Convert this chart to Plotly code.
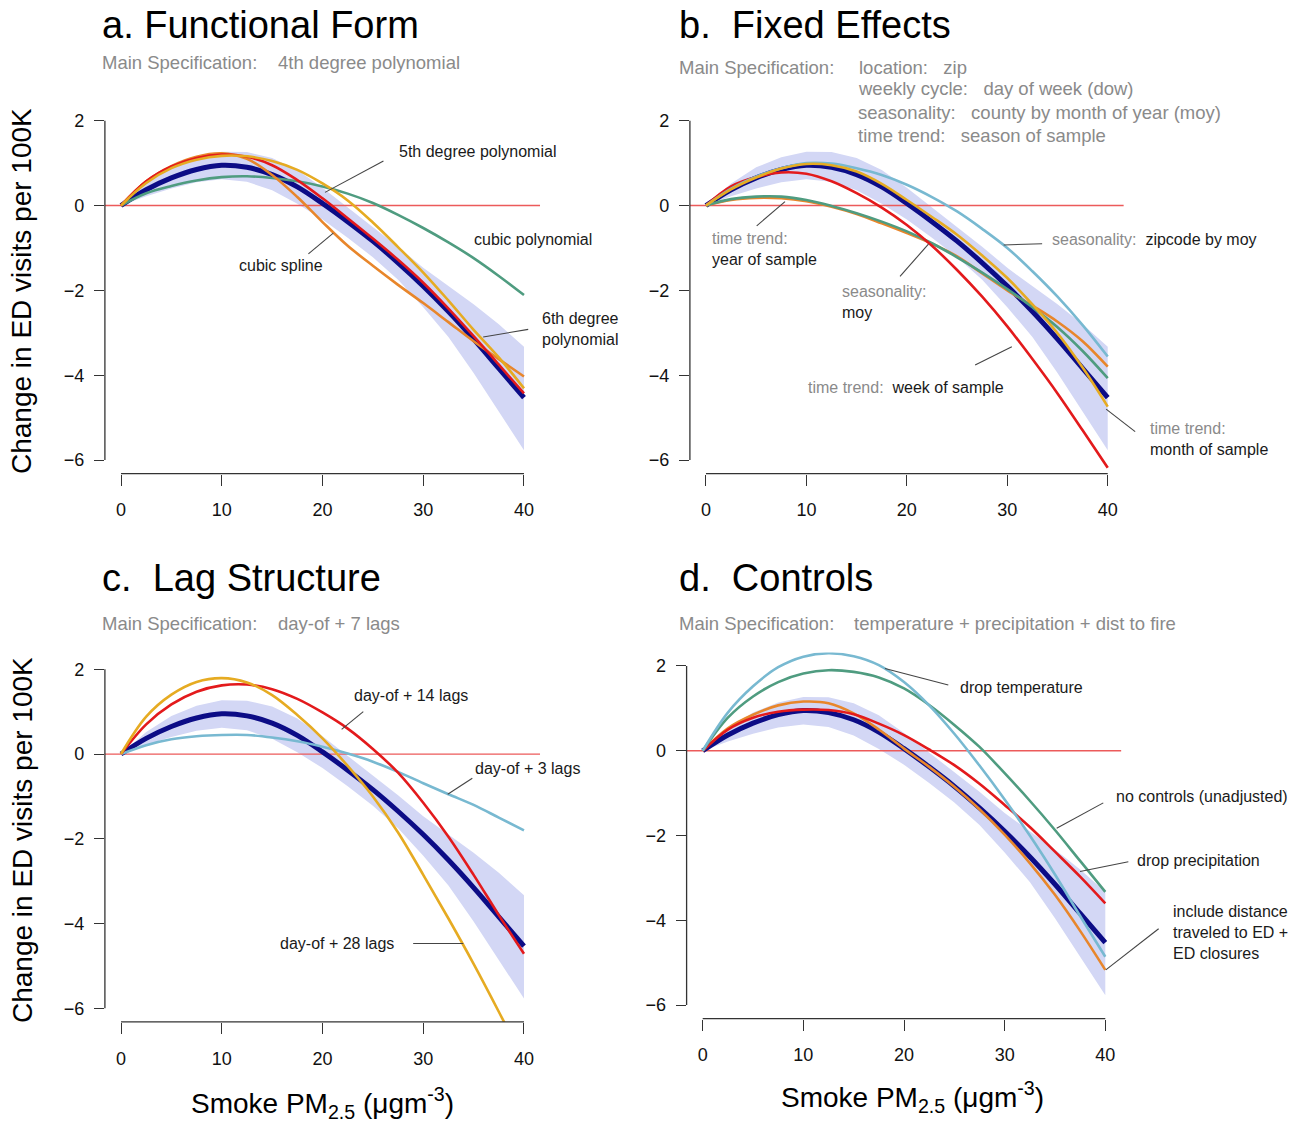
import plotly.graph_objects as go

W, H = 1310, 1126
FONT = "Liberation Sans, Arial, Helvetica, sans-serif"

# ---------------- data ----------------
x_pm = [0, 2.5, 5, 7.5, 10, 12.5, 15, 17.5, 20, 22.5, 25, 27.5, 30, 32.5, 35, 37.5, 40]

# main specification (same in all panels)
main_est = [0, 0.37, 0.65, 0.85, 0.95, 0.90, 0.73, 0.44, 0.05, -0.38, -0.84, -1.35, -1.90, -2.50, -3.15, -3.84, -4.53]
ci_upper = [0, 0.52, 0.90, 1.14, 1.27, 1.26, 1.12, 0.84, 0.42, -0.05, -0.50, -0.97, -1.47, -1.90, -2.33, -2.80, -3.33]
ci_lower = [0, 0.22, 0.40, 0.55, 0.62, 0.56, 0.36, 0.04, -0.33, -0.76, -1.22, -1.75, -2.40, -3.10, -3.95, -4.85, -5.77]

# a. functional form
poly5 = [0, 0.57, 0.92, 1.12, 1.20, 1.15, 0.95, 0.60, 0.17, -0.30, -0.78, -1.28, -1.82, -2.43, -3.08, -3.75, -4.43]
poly6 = [0, 0.53, 0.88, 1.08, 1.17, 1.16, 1.05, 0.84, 0.52, 0.12, -0.40, -0.98, -1.58, -2.24, -2.93, -3.58, -4.31]
cubic_spline = [0, 0.57, 0.93, 1.15, 1.23, 1.10, 0.72, 0.20, -0.39, -0.95, -1.42, -1.87, -2.30, -2.75, -3.20, -3.62, -4.03]
cubic_poly = [0, 0.29, 0.46, 0.59, 0.67, 0.69, 0.65, 0.57, 0.45, 0.28, 0.06, -0.22, -0.53, -0.87, -1.24, -1.66, -2.11]

# b. fixed effects
fe_zip_moy = [0, 0.40, 0.68, 0.88, 1.00, 0.99, 0.88, 0.72, 0.49, 0.20, -0.14, -0.55, -1.00, -1.55, -2.15, -2.82, -3.56]
fe_month = [0, 0.38, 0.66, 0.87, 0.98, 0.95, 0.80, 0.51, 0.13, -0.27, -0.69, -1.18, -1.71, -2.33, -3.01, -3.82, -4.74]
fe_week = [0, 0.45, 0.67, 0.78, 0.75, 0.57, 0.29, -0.05, -0.46, -0.95, -1.52, -2.15, -2.85, -3.62, -4.43, -5.30, -6.18]
fe_moy = [0, 0.15, 0.21, 0.21, 0.13, -0.01, -0.18, -0.38, -0.61, -0.89, -1.22, -1.58, -1.97, -2.40, -2.87, -3.43, -4.07]
fe_year = [0, 0.13, 0.18, 0.17, 0.10, -0.03, -0.20, -0.42, -0.65, -0.90, -1.20, -1.60, -2.00, -2.36, -2.74, -3.20, -3.80]

# c. lag structure
lag14 = [0, 0.70, 1.17, 1.47, 1.62, 1.64, 1.53, 1.30, 0.98, 0.60, 0.12, -0.44, -1.15, -1.95, -2.85, -3.80, -4.71]
lag28 = [0, 0.88, 1.40, 1.70, 1.79, 1.69, 1.39, 0.92, 0.37, -0.28, -1.00, -1.85, -2.85, -3.88, -4.95, -6.08, -7.25]
lag3 = [0, 0.21, 0.35, 0.42, 0.45, 0.45, 0.39, 0.30, 0.17, 0.01, -0.18, -0.42, -0.69, -0.95, -1.20, -1.50, -1.80]

# d. controls
drop_temp = [0, 0.90, 1.52, 1.97, 2.22, 2.30, 2.23, 2.02, 1.62, 1.07, 0.40, -0.35, -1.15, -2.00, -2.92, -3.90, -4.86]
no_controls = [0, 0.78, 1.28, 1.62, 1.82, 1.90, 1.86, 1.73, 1.47, 1.08, 0.61, 0.09, -0.53, -1.18, -1.87, -2.60, -3.33]
drop_precip = [0, 0.50, 0.78, 0.92, 0.97, 0.96, 0.86, 0.64, 0.37, 0.03, -0.34, -0.78, -1.28, -1.80, -2.38, -2.97, -3.60]
incl_dist = [0, 0.53, 0.85, 1.07, 1.16, 1.12, 0.88, 0.50, 0.05, -0.38, -0.85, -1.38, -1.98, -2.65, -3.40, -4.25, -5.17]

x_ticks = [0, 10, 20, 30, 40]
y_ticks = [-6, -4, -2, 0, 2]
y_ticktext = ["\u22126", "\u22124", "\u22122", "0", "2"]

# ---------------- styling ----------------
C = dict(navy="#0c0c86", red="#e31a1c", gold="#e6ab22", orange="#e8862b",
         green="#4f9c80", lblue="#78b9d1", band="#d3d7f5", zero="#ec5a5a")
XR = [-1.6, 41.6]
YR = [-6.32, 2.32]
# plot regions (pixels): left, right, top, bottom
geom = {
    1: (104.9, 540.1, 107.1, 473.6),
    2: (689.9, 1123.8, 107.1, 473.6),
    3: (104.9, 540.1, 655.7, 1021.9),
    4: (686.6, 1121.4, 652.4, 1018.6),
}


def to_paper(k, x, y):
    l, r, t, b = geom[k]
    px = l + (x - XR[0]) / (XR[1] - XR[0]) * (r - l)
    py = b - (y - YR[0]) / (YR[1] - YR[0]) * (b - t)
    return px / W, 1 - py / H


def pxp(x, y):
    return x / W, 1 - y / H


fig = go.Figure()


def ax_ids(k):
    return ("x", "y") if k == 1 else (f"x{k}", f"y{k}")


def add_line(k, y, color, width=2.6):
    xa, ya = ax_ids(k)
    fig.add_trace(go.Scatter(x=x_pm, y=y, mode="lines", xaxis=xa, yaxis=ya,
                             line=dict(color=color, width=width, shape="spline", smoothing=1.0),
                             hoverinfo="skip", showlegend=False))


def add_base(k):
    xa, ya = ax_ids(k)
    fig.add_trace(go.Scatter(x=x_pm + x_pm[::-1], y=ci_upper + ci_lower[::-1], mode="lines",
                             fill="toself", fillcolor=C["band"], line=dict(width=0, color=C["band"]),
                             xaxis=xa, yaxis=ya, hoverinfo="skip", showlegend=False))
    fig.add_trace(go.Scatter(x=XR, y=[0, 0], mode="lines", xaxis=xa, yaxis=ya,
                             line=dict(color=C["zero"], width=1.3), hoverinfo="skip", showlegend=False))
    add_line(k, main_est, C["navy"], 5)


# panel a
add_base(1)
add_line(1, cubic_poly, C["green"])
add_line(1, cubic_spline, C["orange"])
add_line(1, poly5, C["red"])
add_line(1, poly6, C["gold"])
# panel b
add_base(2)
add_line(2, fe_year, C["orange"])
add_line(2, fe_moy, C["green"])
add_line(2, fe_week, C["red"])
add_line(2, fe_zip_moy, C["lblue"])
add_line(2, fe_month, C["gold"])
# panel c
add_base(3)
add_line(3, lag3, C["lblue"])
add_line(3, lag14, C["red"])
add_line(3, lag28, C["gold"])
# panel d
add_base(4)
add_line(4, incl_dist, C["orange"])
add_line(4, drop_precip, C["red"])
add_line(4, no_controls, C["green"])
add_line(4, drop_temp, C["lblue"])

layout = dict(width=W, height=H, margin=dict(l=0, r=0, t=0, b=0),
              paper_bgcolor="white", plot_bgcolor="white",
              font=dict(family=FONT, color="#111"), showlegend=False)

for k in range(1, 5):
    l, r, t, b = geom[k]
    sx = "" if k == 1 else str(k)
    layout["xaxis" + sx] = dict(domain=[l / W, r / W], range=XR, anchor="y" + sx,
                                tickvals=x_ticks, ticks="outside", ticklen=11, tickwidth=1.3,
                                tickcolor="#333", showline=False, showgrid=False, zeroline=False,
                                tickfont=dict(size=18, color="#111"), ticklabelstandoff=9, fixedrange=True)
    layout["yaxis" + sx] = dict(domain=[1 - b / H, 1 - t / H], range=YR, anchor="x" + sx,
                                tickvals=y_ticks, ticktext=y_ticktext, ticks="outside", ticklen=10,
                                tickwidth=1.3, tickcolor="#333", showline=False, showgrid=False,
                                zeroline=False, tickfont=dict(size=18, color="#111"),
                                ticklabelstandoff=6, fixedrange=True)
fig.update_layout(**layout)

shapes = []
# R-style axis lines
for k in range(1, 5):
    x0, y0 = to_paper(k, XR[0], y_ticks[0])
    x1, y1 = to_paper(k, XR[0], y_ticks[-1])
    shapes.append(dict(type="line", xref="paper", yref="paper", x0=x0, y0=y0, x1=x1, y1=y1,
                       line=dict(color="#333", width=1.3)))
    x0, y0 = to_paper(k, x_ticks[0], YR[0])
    x1, y1 = to_paper(k, x_ticks[-1], YR[0])
    shapes.append(dict(type="line", xref="paper", yref="paper", x0=x0, y0=y0, x1=x1, y1=y1,
                       line=dict(color="#333", width=1.3)))

annotations = []
GRAY = "#8a8a8a"
DARK = "#1a1a1a"


def g(t):
    return f"<span style='color:{GRAY}'>{t}</span>"


# curve labels: (panel, text, x, y, pointer)
labels = [
    (1, "5th degree polynomial", 27.4, 1.27, (26.05, 1.05, 20.25, 0.31)),
    (1, "cubic polynomial", 34.8, -0.79, None),
    (1, "cubic spline", 11.5, -1.42, (18.6, -1.14, 21.07, -0.65)),
    (1, "6th degree<br>polynomial", 41.6, -2.92, (40.42, -2.92, 35.95, -3.1)),
    (2, g("time trend:") + "<br>year of sample", 0.4, -1.03, (5.05, -0.48, 7.87, 0.09)),
    (2, g("seasonality:") + "\u00a0 zipcode by moy", 34.3, -0.79, (29.64, -0.93, 33.47, -0.9)),
    (2, g("seasonality:") + "<br>moy", 13.35, -2.27, (19.32, -1.67, 22.15, -0.91)),
    (2, g("time trend:") + "\u00a0 week of sample", 9.96, -4.28, (26.8, -3.76, 30.45, -3.33)),
    (2, g("time trend:") + "<br>month of sample", 44.0, -5.5, (39.84, -4.8, 42.73, -5.33)),
    (3, "day-of + 14 lags", 22.9, 1.39, (24.05, 1.0, 21.9, 0.58)),
    (3, "day-of + 3 lags", 34.9, -0.33, (34.87, -0.57, 32.43, -0.95)),
    (3, "day-of + 28 lags", 15.6, -4.46, (29.0, -4.47, 33.97, -4.47)),
    (4, "drop temperature", 25.37, 1.5, (24.4, 1.55, 18.11, 1.94)),
    (4, "no controls (unadjusted)", 40.87, -1.09, (39.8, -1.23, 35.17, -1.83)),
    (4, "drop precipitation", 42.96, -2.58, (42.29, -2.62, 37.49, -2.85)),
    (4, "include distance<br>traveled to ED +<br>ED closures", 46.5, -4.28, (45.3, -4.2, 40.05, -5.17)),
]
for k, text, x, y, ptr in labels:
    px, py = to_paper(k, x, y)
    annotations.append(dict(text=text, x=px, y=py, xref="paper", yref="paper", showarrow=False,
                            xanchor="left", yanchor="middle", align="left",
                            font=dict(size=16, color=DARK, family=FONT)))
    if ptr:
        x0, y0 = to_paper(k, ptr[0], ptr[1])
        x1, y1 = to_paper(k, ptr[2], ptr[3])
        shapes.append(dict(type="line", xref="paper", yref="paper", x0=x0, y0=y0, x1=x1, y1=y1,
                           line=dict(color="#444", width=1.1)))

# titles and specification notes (pixel positions)
texts = [
    ("a. Functional Form", 100, 25, 38, "#000"),
    ("b.\u00a0 Fixed Effects", 677, 25, 38, "#000"),
    ("c.\u00a0 Lag Structure", 100, 578, 38, "#000"),
    ("d.\u00a0 Controls", 677, 578, 38, "#000"),
    ("Main Specification:", 100, 62, 18.5, GRAY),
    ("4th degree polynomial", 276, 62, 18.5, GRAY),
    ("Main Specification:", 677, 67, 18.5, GRAY),
    ("location:\u00a0\u00a0 zip", 857, 67, 18.5, GRAY),
    ("weekly cycle:\u00a0\u00a0 day of week (dow)", 856, 89, 18.5, GRAY),
    ("seasonality:\u00a0\u00a0 county by month of year (moy)", 856, 112, 18.5, GRAY),
    ("time trend:\u00a0\u00a0 season of sample", 856, 135, 18.5, GRAY),
    ("Main Specification:", 100, 623, 18.5, GRAY),
    ("day-of + 7 lags", 276, 623, 18.5, GRAY),
    ("Main Specification:", 677, 623, 18.5, GRAY),
    ("temperature + precipitation + dist to fire", 852, 623, 18.5, GRAY),
]
for text, x, y, size, col in texts:
    px, py = pxp(x, y)
    annotations.append(dict(text=text, x=px, y=py, xref="paper", yref="paper", showarrow=False,
                            xanchor="left", yanchor="middle", font=dict(size=size, color=col, family=FONT)))

# axis titles
ytitle = "Change in ED visits per 100K"
xtitle = "Smoke PM<sub>2.5</sub> (\u03bcgm<sup>-3</sup>)"
for (x, y) in [(22, 291), (22, 840)]:
    px, py = pxp(x, y)
    annotations.append(dict(text=ytitle, x=px, y=py, xref="paper", yref="paper", showarrow=False,
                            textangle=-90, xanchor="center", yanchor="middle",
                            font=dict(size=28, color="#000", family=FONT)))
for (x, y) in [(322, 1103), (912, 1097)]:
    px, py = pxp(x, y)
    annotations.append(dict(text=xtitle, x=px, y=py, xref="paper", yref="paper", showarrow=False,
                            xanchor="center", yanchor="middle",
                            font=dict(size=28, color="#000", family=FONT)))

fig.update_layout(shapes=shapes, annotations=annotations)
fig.write_html("out.html", config=dict(displayModeBar=False))
